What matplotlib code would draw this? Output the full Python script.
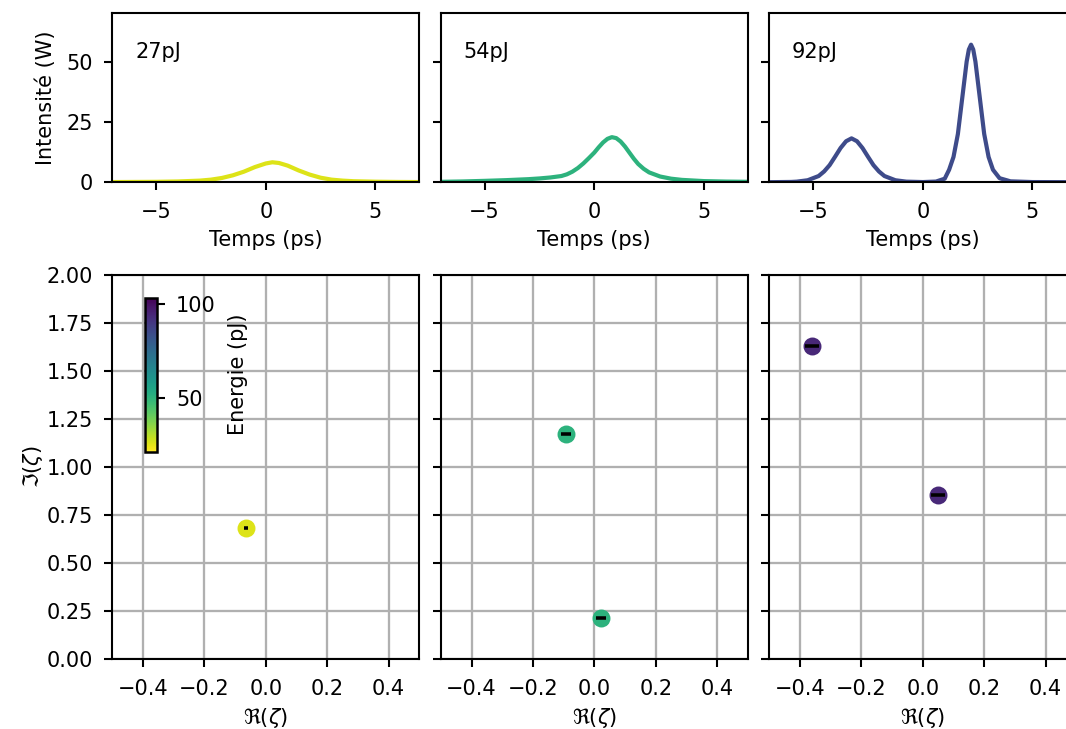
import numpy as np
import matplotlib
matplotlib.use("Agg")
import matplotlib.pyplot as plt
from matplotlib.colors import Normalize

# ---------------- data ----------------
energies = [27, 54, 92]
labels = ["27pJ", "54pJ", "92pJ"]
line_colors = ["#dde318", "#2db27d", "#3e4b8a"]
marker_colors = ["#dde318", "#2db27d", "#482878"]

t_27 = [-7, -6, -5, -4, -3, -2.5, -2, -1.5, -1, -0.5, 0, 0.3, 0.6, 1, 1.5, 2, 2.5, 3, 3.5, 4, 5, 6, 7]
i_27 = [0.1, 0.15, 0.2, 0.35, 0.7, 1.1, 1.8, 2.9, 4.4, 6.3, 7.8, 8.3, 8.0, 6.9, 4.9, 3.2, 1.9, 1.1, 0.7, 0.45, 0.25, 0.15, 0.1]

t_54 = [-7, -6, -5, -4, -3, -2.5, -2, -1.5, -1.25, -1, -0.75, -0.5, -0.25, 0, 0.2, 0.4, 0.6, 0.8,
        1.0, 1.2, 1.4, 1.6, 1.8, 2, 2.25, 2.5, 3, 3.5, 4, 5, 6, 7]
i_54 = [0.2, 0.35, 0.6, 0.9, 1.3, 1.6, 2.0, 2.6, 3.3, 4.4, 5.9, 7.8, 10.0, 12.3, 14.5, 16.5, 18.0, 18.7,
        18.3, 16.9, 14.8, 12.3, 9.8, 7.6, 5.6, 4.1, 2.4, 1.5, 1.0, 0.5, 0.3, 0.2]

t_92 = [-7, -6, -5.75, -5.25, -4.75, -4.5, -4.25, -4.0, -3.75, -3.5, -3.25, -3.0, -2.75, -2.5,
        -2.25, -2.0, -1.75, -1.25, -0.75, 0, 0.6, 1.0, 1.2, 1.4, 1.6, 1.8, 2.0, 2.1, 2.2, 2.3,
        2.4, 2.6, 2.8, 3.0, 3.2, 3.5, 4.0, 5.0, 7.0]
i_92 = [0.05, 0.15, 0.27, 0.85, 2.6, 4.5, 7.1, 10.6, 14.2, 17.0, 18.2, 17.0, 14.2, 10.6,
        7.1, 4.5, 2.6, 0.85, 0.27, 0.1, 0.3, 1.5, 5.2, 10.5, 20.0, 35.0, 50.0, 55.0, 57.0, 55.0,
        50.0, 35.0, 20.0, 10.5, 5.2, 1.7, 0.4, 0.1, 0.05]

times = [t_27, t_54, t_92]
intens = [i_27, i_54, i_92]

# eigenvalues (Re, Im) and x uncertainty
re_27 = [-0.065]
im_27 = [0.683]
err_27 = [0.0065]
re_54 = [-0.092, 0.022]
im_54 = [1.172, 0.217]
err_54 = [0.017, 0.017]
re_92 = [-0.361, 0.050]
im_92 = [1.629, 0.854]
err_92 = [0.023, 0.023]
re_all = [re_27, re_54, re_92]
im_all = [im_27, im_54, im_92]
err_all = [err_27, err_54, err_92]

cbar_min, cbar_max = 21.4, 103.4
cbar_ticks = [50, 100]

# ---------------- figure ----------------
DPI = 150
plt.rcParams.update({
    'font.size': 10,
    'axes.linewidth': 1.0,
    'xtick.major.size': 4.0,
    'ytick.major.size': 4.0,
    'xtick.major.width': 1.0,
    'ytick.major.width': 1.0,
    'xtick.major.pad': 5.3,
    'ytick.major.pad': 5.3,
})
fig = plt.figure(figsize=(1066 / DPI, 729 / DPI), dpi=DPI)

W, H = 1066.0, 729.0
lefts = [112.3, 440.8, 769.3]
width = 307.0
top_h = 169.0
bot_h = 659.3 - 274.7

cmap = plt.get_cmap("viridis_r")
norm = Normalize(vmin=cbar_min, vmax=cbar_max)

top_axes = []
bot_axes = []
for k in range(3):
    axt = fig.add_axes([lefts[k] / W, (H - 182.3) / H, width / W, top_h / H])
    axb = fig.add_axes([lefts[k] / W, (H - 659.3) / H, width / W, bot_h / H])
    top_axes.append(axt)
    bot_axes.append(axb)

for k in range(3):
    axt = top_axes[k]
    axt.plot(times[k], intens[k], color=line_colors[k], lw=2)
    axt.set_xlim(-7, 7)
    axt.set_ylim(0, 70)
    axt.set_yticks([0, 25, 50])
    axt.set_xticks([-5, 0, 5])
    axt.set_xlabel("Temps (ps)")
    axt.xaxis.set_label_coords(0.5, -(230.5 - 182.3) / top_h)
    axt.text(0.074, 0.77, labels[k], transform=axt.transAxes, va="center", ha="left")
    if k == 0:
        axt.set_ylabel("Intensité (W)")
        axt.yaxis.set_label_coords((56.0 - 112.3) / width, 0.5)
    else:
        axt.set_yticklabels([])

    axb = bot_axes[k]
    axb.grid(True, color="#b0b0b0", lw=1.1)
    axb.set_axisbelow(True)
    axb.scatter(re_all[k], im_all[k], color=marker_colors[k], s=58, zorder=3)
    axb.errorbar(re_all[k], im_all[k], xerr=err_all[k], fmt="none", ecolor="black",
                 elinewidth=1.7, capsize=0, zorder=4)
    axb.set_xlim(-0.5, 0.5)
    axb.set_ylim(0, 2.0)
    axb.set_xticks([-0.4, -0.2, 0.0, 0.2, 0.4])
    axb.set_yticks([0, 0.25, 0.5, 0.75, 1.0, 1.25, 1.5, 1.75, 2.0])
    axb.set_xlabel(r"$\Re(\zeta)$")
    axb.xaxis.set_label_coords(0.5, -(705.5 - 659.3) / bot_h)
    if k == 0:
        axb.set_ylabel(r"$\Im(\zeta)$")
        axb.yaxis.set_label_coords((45.0 - 112.3) / width, 0.5)
    else:
        axb.set_yticklabels([])

# colorbar inset
cax = fig.add_axes([145.0 / W, (H - 451.7) / H, 11.7 / W, 154.0 / H])
sm = plt.cm.ScalarMappable(norm=norm, cmap=cmap)
cb = fig.colorbar(sm, cax=cax, ticks=cbar_ticks)
cb.set_label("Energie (pJ)", labelpad=6)
cb.outline.set_linewidth(1.2)

fig.savefig("out.png", dpi=DPI)
